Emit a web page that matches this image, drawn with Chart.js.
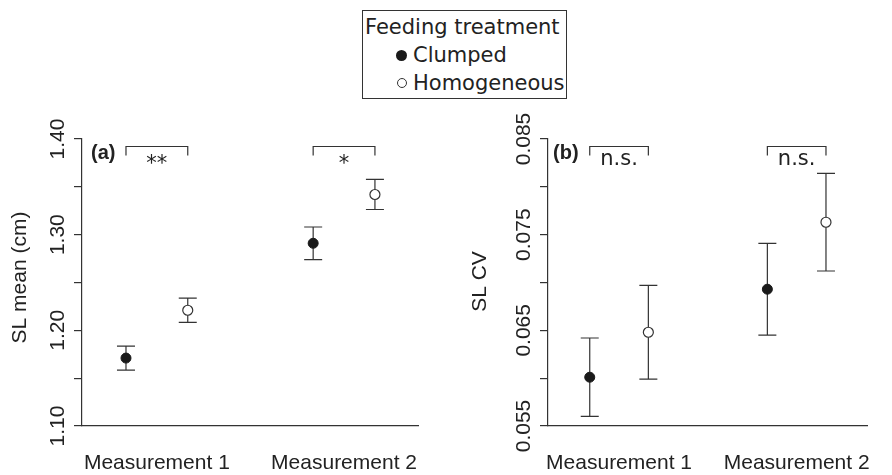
<!DOCTYPE html>
<html>
<head>
<meta charset="utf-8">
<title>SL mean and SL CV by feeding treatment</title>
<script src="https://cdn.jsdelivr.net/npm/chart.js@4.4.1/dist/chart.umd.min.js"></script>
<style>
  body { margin: 0; width: 892px; height: 475px; overflow: hidden; position: relative; background: #fff; }
  .panel { position: absolute; top: 0; height: 475px; }
  #panelA { left: 0; width: 446px; }
  #panelB { left: 446px; width: 450px; }
  #legend {
    position: absolute; left: 362px; top: 10px; width: 205px; height: 89px;
    box-sizing: border-box; border: 1px solid #333; background: #fff;
    font: 21px "DejaVu Sans"; color: #222; line-height: 28px; padding: 2px 0 0 2px;
  }
  .lg-row { position: relative; padding-left: 48px; }
  .dot { position: absolute; top: 50%; width: 11px; height: 11px; margin-top: -5px; border-radius: 50%; box-sizing: border-box; }
  .dot.filled { left: 31px; background: #1a1a1a; }
  .dot.open { left: 32px; width: 10px; height: 10px; border: 1.2px solid #333; background: #fff; }
</style>
</head>
<body>

<div class="panel" id="panelA"><canvas id="chartA"></canvas></div>
<div class="panel" id="panelB"><canvas id="chartB"></canvas></div>

<div id="legend">
  <div>Feeding treatment</div>
  <div class="lg-row"><span class="dot filled"></span>Clumped</div>
  <div class="lg-row"><span class="dot open"></span>Homogeneous</div>
</div>

<script>
// categories on the x axis
var measurements = ['Measurement 1', 'Measurement 2'];
var xCat = [1, 2];
var dodge = 0.165;   // clumped left, homogeneous right

// (a) SL mean (cm), mean +- SE
var meanClumped = [1.171, 1.291];
var seMeanClumped = [0.0125, 0.017];
var meanHomog = [1.221, 1.342];
var seMeanHomog = [0.0127, 0.0157];
var sigA = ['**', '*'];
var yTicksA = [1.10, 1.15, 1.20, 1.25, 1.30, 1.35, 1.40];
var yLabelsA = [1.10, 1.20, 1.30, 1.40];

// (b) SL CV, mean +- SE
var cvClumped = [0.0601, 0.0693];
var seCvClumped = [0.0041, 0.0048];
var cvHomog = [0.0648, 0.0763];
var seCvHomog = [0.0049, 0.0051];
var sigB = ['n.s.', 'n.s.'];
var yTicksB = [0.055, 0.060, 0.065, 0.070, 0.075, 0.080, 0.085];
var yLabelsB = [0.055, 0.065, 0.075, 0.085];

Chart.defaults.font.family = '"Liberation Sans", Arial, sans-serif';
Chart.defaults.color = '#222';

var ink = '#333';

// error bars, significance brackets, rotated y labels (R style)
var panelDeco = {
  id: 'panelDeco',
  beforeDatasetsDraw: function (chart, args, o) {
    var ctx = chart.ctx, xs = chart.scales.x, ys = chart.scales.y;
    ctx.save();
    ctx.strokeStyle = ink;
    ctx.lineWidth = 1.2;
    chart.data.datasets.forEach(function (ds, i) {
      ds.data.forEach(function (d, j) {
        var x = xs.getPixelForValue(d.x);
        var y1 = ys.getPixelForValue(d.y + o.errors[i][j]);
        var y2 = ys.getPixelForValue(d.y - o.errors[i][j]);
        ctx.beginPath();
        ctx.moveTo(x, y1); ctx.lineTo(x, y2);
        ctx.moveTo(x - 9, y1); ctx.lineTo(x + 9, y1);
        ctx.moveTo(x - 9, y2); ctx.lineTo(x + 9, y2);
        ctx.stroke();
      });
    });
    ctx.restore();
  },
  afterDraw: function (chart, args, o) {
    var ctx = chart.ctx, xs = chart.scales.x, ys = chart.scales.y, area = chart.chartArea;
    ctx.save();
    ctx.fillStyle = '#222';

    // y tick labels, rotated
    ctx.font = '21px "Liberation Sans"';
    ctx.textAlign = 'center';
    ctx.textBaseline = 'middle';
    o.yLabels.forEach(function (v) {
      ctx.save();
      ctx.translate(area.left - 24, ys.getPixelForValue(v));
      ctx.rotate(-Math.PI / 2);
      ctx.fillText(v.toFixed(o.digits), 0, 0);
      ctx.restore();
    });

    // y title
    ctx.save();
    ctx.translate(area.left - o.titleOff, (area.top + area.bottom) / 2 + o.titleShift);
    ctx.rotate(-Math.PI / 2);
    ctx.fillText(o.title, 0, 0);
    ctx.restore();

    // panel tag
    ctx.font = 'bold 20px "Liberation Sans"';
    ctx.textAlign = 'left';
    ctx.textBaseline = 'alphabetic';
    ctx.fillText(o.tag, area.left + o.tagX, area.top + 20);

    // brackets + significance
    ctx.strokeStyle = ink;
    ctx.lineWidth = 1.2;
    ctx.font = '21px "DejaVu Sans"';
    ctx.textAlign = 'center';
    var top = area.top + 7.5;
    xCat.forEach(function (c, k) {
      var x1 = xs.getPixelForValue(c - dodge), x2 = xs.getPixelForValue(c + dodge);
      ctx.beginPath();
      ctx.moveTo(x1, top + 9); ctx.lineTo(x1, top); ctx.lineTo(x2, top); ctx.lineTo(x2, top + 9);
      ctx.stroke();
      var m = ctx.measureText(o.sig[k]);
      var base = area.top + 20 + (m.actualBoundingBoxAscent - m.actualBoundingBoxDescent) / 2;
      ctx.fillText(o.sig[k], (x1 + x2) / 2, base);
    });
    ctx.restore();
  }
};

function pts(vals, shift) {
  return xCat.map(function (c, i) { return { x: c + shift, y: vals[i] }; });
}

function makePanel(id, p) {
  return new Chart(document.getElementById(id), {
    type: 'scatter',
    data: {
      datasets: [{
        label: 'Clumped',
        data: pts(p.clumped, -dodge),
        pointRadius: 5,
        pointBackgroundColor: '#1a1a1a',
        pointBorderColor: '#1a1a1a',
        pointBorderWidth: 1
      }, {
        label: 'Homogeneous',
        data: pts(p.homog, dodge),
        pointRadius: 5,
        pointBackgroundColor: '#fff',
        pointBorderColor: ink,
        pointBorderWidth: 1.2
      }]
    },
    options: {
      responsive: true,
      maintainAspectRatio: false,
      animation: false,
      events: [],
      layout: { padding: { top: 139, right: p.padRight, bottom: 0, left: 0 } },
      scales: {
        x: {
          type: 'linear', min: 0.6, max: 2.4,
          afterBuildTicks: function (s) { s.ticks = xCat.map(function (v) { return { value: v }; }); },
          afterFit: function (s) { s.height = 49; },
          grid: { display: false, drawTicks: false },
          border: { display: true, color: ink, width: 1.2 },
          ticks: {
            autoSkip: false, maxRotation: 0, padding: 25,
            font: { size: 21 }, color: '#222',
            callback: function (v, i) { return measurements[i]; }
          }
        },
        y: {
          min: p.yMin, max: p.yMax,
          afterBuildTicks: function (s) { s.ticks = p.yTicks.map(function (v) { return { value: v }; }); },
          afterFit: function (s) { s.width = p.axisLeft; },
          grid: { drawOnChartArea: false, drawTicks: true, tickLength: 8, color: ink, lineWidth: 1.2 },
          border: { display: true, color: ink, width: 1.2 },
          ticks: { display: false }
        }
      },
      plugins: {
        legend: { display: false },
        tooltip: { enabled: false },
        panelDeco: {
          errors: [p.seClumped, p.seHomog],
          sig: p.sig, tag: p.tag, tagX: p.tagX,
          yLabels: p.yLabels, digits: p.digits,
          title: p.title, titleOff: p.titleOff, titleShift: p.titleShift
        }
      }
    },
    plugins: [panelDeco]
  });
}

makePanel('chartA', {
  clumped: meanClumped, seClumped: seMeanClumped,
  homog: meanHomog, seHomog: seMeanHomog,
  sig: sigA, tag: '(a)', tagX: 9,
  yMin: 1.10, yMax: 1.40, yTicks: yTicksA, yLabels: yLabelsA, digits: 2,
  title: 'SL mean (cm)', titleOff: 62, titleShift: -5,
  axisLeft: 82, padRight: 18
});

makePanel('chartB', {
  clumped: cvClumped, seClumped: seCvClumped,
  homog: cvHomog, seHomog: seCvHomog,
  sig: sigB, tag: '(b)', tagX: 5,
  yMin: 0.055, yMax: 0.085, yTicks: yTicksB, yLabels: yLabelsB, digits: 3,
  title: 'SL CV', titleOff: 68, titleShift: -1,
  axisLeft: 102, padRight: 2
});
</script>
</body>
</html>
